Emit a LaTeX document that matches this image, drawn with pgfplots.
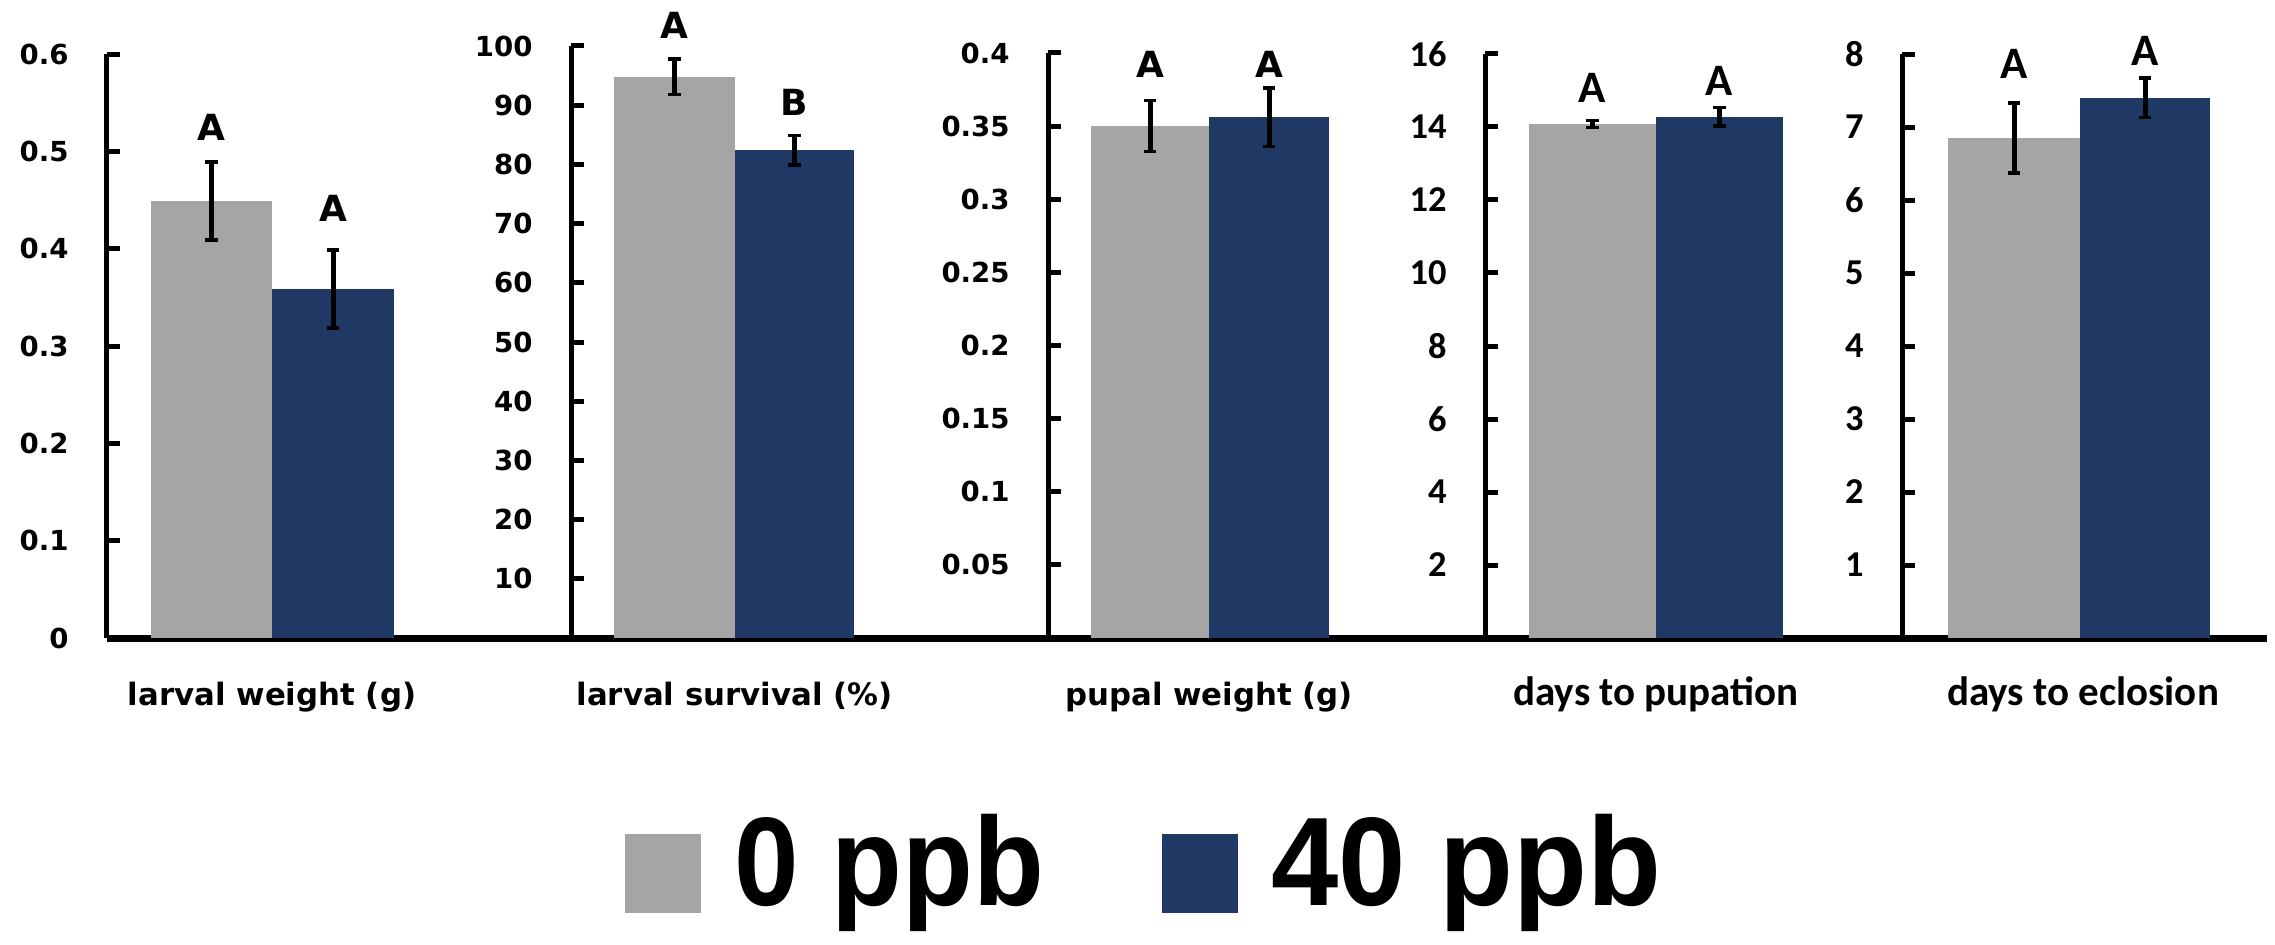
\documentclass[border=0pt]{standalone}
\usepackage{fontspec}
\usepackage{pgfplots}
\pgfplotsset{compat=1.18}
\newfontfamily\vb{DejaVu Sans}
\newfontfamily\cb{Carlito}
\newfontfamily\ab{Liberation Sans}
\definecolor{cGray}{HTML}{A5A5A5}
\definecolor{cNavy}{HTML}{203864}
\newcommand{\fvt}{\vb\bfseries\fontsize{13.8}{13.8}\selectfont}
\newcommand{\fvl}{\vb\bfseries\fontsize{15.4}{15.4}\selectfont}
\newcommand{\fva}{\vb\bfseries\fontsize{18}{18}\selectfont}
\newcommand{\fct}{\cb\bfseries\fontsize{18.2}{18.2}\selectfont}
\newcommand{\fcl}{\cb\bfseries\fontsize{20.5}{20.5}\selectfont}
\newcommand{\fca}{\cb\bfseries\fontsize{22.5}{22.5}\selectfont}
\pgfplotsset{
  panel/.style={
    scale only axis, clip=false, anchor=south west,
    axis x line=bottom, axis y line=left,
    axis line style={-},
    x axis line style={-, line width=3.5pt, black},
    y axis line style={-, line width=2.5pt, black},
    xtick=\empty,
    tick align=inside,
    major tick length=6.5pt,
    ytick style={line width=2.5pt, black},
    ymin=0,
    yticklabel style={anchor=east, inner sep=0pt, xshift=-19pt},
    xlabel style={anchor=base, inner sep=0pt, yshift=-33.5pt},
  },
  bars/.style={ybar, bar shift=0pt, draw=none, forget plot,
    error bars/y dir=both, error bars/y explicit,
    error bars/error bar style={line width=2.5pt, black},
    error bars/error mark options={rotate=90, mark size=3.2pt, line width=1.7pt, black}},
  letters/.style={draw=none, mark=none, forget plot, nodes near coords,
    point meta=explicit symbolic,
    every node near coord/.append style={anchor=base, inner sep=0pt, font=#1}},
}
\begin{document}
\begin{tikzpicture}
\path[use as bounding box] (0,0) rectangle (1137.5pt,472pt);

% Panel 1: larval weight
\begin{axis}[panel, at={(53.5pt,153pt)}, width=232pt, height=292pt,
  xmin=107, xmax=571, ymax=0.6,
  ytick={0,0.1,0.2,0.3,0.4,0.5,0.6}, yticklabels={0,0.1,0.2,0.3,0.4,0.5,0.6},
  yticklabel style={font=\fvt},
  xlabel={larval weight (g)},
  xlabel style={at={(axis description cs:0.3556,0)}, font=\fvl},
  legend columns=2,
  legend style={at={(axis description cs:1.1164,-0.470)}, anchor=south west,
    draw=none, fill=none, inner sep=0pt, outer sep=0pt,
    nodes={inner sep=0pt, outer sep=0pt},
    cells={anchor=base west},
    font=\ab\bfseries\fontsize{63}{63}\selectfont,
    /tikz/every odd column/.append style={column sep=17pt},
    /tikz/every even column/.append style={column sep=59pt}},
]
\addplot[bars, bar width=121, fill=cGray] coordinates {(211.5,0.449) +- (0,0.040)};
\addplot[bars, bar width=122, fill=cNavy] coordinates {(333,0.3586) +- (0,0.040)};
\addplot[letters=\fva] coordinates {(211.5,0.5116)[A] (333,0.4274)[A]};
\addlegendimage{legend image code/.code={\fill[cGray] (0pt,-3.5pt) rectangle (37.5pt,35.5pt);}}
\addlegendentry{\scalebox{0.92}[1]{0 ppb}}
\addlegendimage{legend image code/.code={\fill[cNavy] (0pt,-3.5pt) rectangle (37.5pt,35.5pt);}}
\addlegendentry{\scalebox{0.96}[1]{40 ppb}}
\end{axis}

% Panel 2: larval survival
\begin{axis}[panel, at={(285.5pt,153pt)}, width=238.5pt, height=296pt,
  xmin=571, xmax=1048, ymax=100,
  ytick={10,20,30,40,50,60,70,80,90,100}, yticklabels={10,20,30,40,50,60,70,80,90,100},
  yticklabel style={font=\fvt},
  xlabel={larval survival (\%)},
  xlabel style={at={(axis description cs:0.3428,0)}, font=\fvl},
]
\addplot[bars, bar width=121, fill=cGray] coordinates {(674.5,94.8) +- (0,3.0)};
\addplot[bars, bar width=119, fill=cNavy] coordinates {(794.5,82.4) +- (0,2.5)};
\addplot[letters=\fva] coordinates {(674.5,101.2)[A] (794.5,88.3)[B]};
\end{axis}

% Panel 3: pupal weight
\begin{axis}[panel, at={(524pt,153pt)}, width=218.5pt, height=292.5pt,
  xmin=1048, xmax=1485, ymax=0.4,
  ytick={0.05,0.1,0.15,0.2,0.25,0.3,0.35,0.4}, yticklabels={0.05,0.1,0.15,0.2,0.25,0.3,0.35,0.4},
  yticklabel style={font=\fvt},
  xlabel={pupal weight (g)},
  xlabel style={at={(axis description cs:0.3684,0)}, font=\fvl},
]
\addplot[bars, bar width=118, fill=cGray] coordinates {(1150,0.350) +- (0,0.0175)};
\addplot[bars, bar width=120, fill=cNavy] coordinates {(1269,0.356) +- (0,0.020)};
\addplot[letters=\fva] coordinates {(1150,0.383)[A] (1269,0.383)[A]};
\end{axis}

% Panel 4: days to pupation
\begin{axis}[panel, at={(742.5pt,153pt)}, width=208.5pt, height=292pt,
  xmin=1485, xmax=1902, ymax=16,
  ytick={2,4,6,8,10,12,14,16}, yticklabels={2,4,6,8,10,12,14,16},
  yticklabel style={font=\fct},
  xlabel={days to pupation},
  xlabel style={at={(axis description cs:0.41,0)}, font=\fcl},
]
\addplot[bars, bar width=127, fill=cGray] coordinates {(1592.5,14.08) +- (0,0.10)};
\addplot[bars, bar width=127, fill=cNavy] coordinates {(1719.5,14.28) +- (0,0.25)};
\addplot[letters=\fca] coordinates {(1592.5,14.66)[A] (1719.5,14.85)[A]};
\end{axis}

% Panel 5: days to eclosion
\begin{axis}[panel, at={(951pt,153pt)}, width=182.5pt, height=292pt,
  xmin=1902, xmax=2267, ymax=8,
  ytick={1,2,3,4,5,6,7,8}, yticklabels={1,2,3,4,5,6,7,8},
  yticklabel style={font=\fct},
  xlabel={days to eclosion},
  xlabel style={at={(axis description cs:0.496,0)}, font=\fcl},
]
\addplot[bars, bar width=132, fill=cGray] coordinates {(2014,6.85) +- (0,0.48)};
\addplot[bars, bar width=130, fill=cNavy] coordinates {(2145,7.40) +- (0,0.27)};
\addplot[letters=\fca] coordinates {(2014,7.67)[A] (2145,7.84)[A]};
\end{axis}
\end{tikzpicture}
\end{document}
